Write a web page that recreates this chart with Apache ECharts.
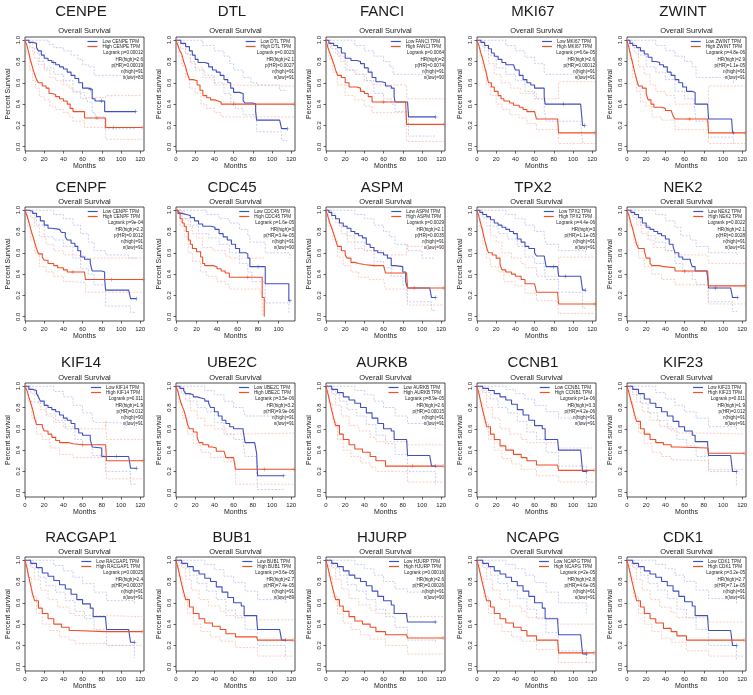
<!DOCTYPE html>
<html><head><meta charset="utf-8">
<script src="https://cdn.jsdelivr.net/npm/echarts@6/dist/echarts.min.js"></script>
<style>html,body{margin:0;padding:0;background:#fff}#c{width:753px;height:695px}</style>
</head><body><div id="c"></div>
<script>
// ---------- tick labels ----------
const xTicks = [0,20,40,60,80,100,120];
const xTicksShort = [0,20,40,60,80,100];
const yTicks = [0,0.2,0.4,0.6,0.8,1.0];
const yTickLabels = ['0.0','0.2','0.4','0.6','0.8','1.0'];

// ---------- genes ----------
const geneNames = ['CENPE','DTL','FANCI','MKI67','ZWINT','CENPF','CDC45','ASPM','TPX2','NEK2','KIF14','UBE2C','AURKB','CCNB1','KIF23','RACGAP1','BUB1','HJURP','NCAPG','CDK1'];
const yAxisTitles = ['Percent Survival','Percent survival','Percent survival','Percent survival','Percent survival','Percent Survival','Percent Survival','Percent Survival','Percent Survival','Percent survival','Percent survival','Percent survival','Percent survival','Percent survival','Percent survival','Percent survival','Percent survival','Percent survival','Percent survival','Percent survival'];

// ---------- statistics ----------
const CENPE_stats = ['Logrank p=0.00012','HR(high)=2.6','p(HR)=0.00019','n(high)=91','n(low)=83'];
const DTL_stats = ['Logrank p=0.0023','HR(high)=2.1','p(HR)=0.0027','n(high)=91','n(low)=91'];
const FANCI_stats = ['Logrank p=0.0064','HR(high)=2','p(HR)=0.0074','n(high)=91','n(low)=90'];
const MKI67_stats = ['Logrank p=6.6e-05','HR(high)=2.6','p(HR)=0.00012','n(high)=91','n(low)=91'];
const ZWINT_stats = ['Logrank p=4.8e-06','HR(high)=2.9','p(HR)=1.1e-05','n(high)=91','n(low)=91'];
const CENPF_stats = ['Logrank p=9e-04','HR(high)=2.2','p(HR)=0.0012','n(high)=91','n(low)=91'];
const CDC45_stats = ['Logrank p=1.6e-05','HR(high)=3','p(HR)=3.4e-05','n(high)=91','n(low)=90'];
const ASPM_stats = ['Logrank p=0.0029','HR(high)=2.1','p(HR)=0.0035','n(high)=91','n(low)=90'];
const TPX2_stats = ['Logrank p=4.4e-06','HR(high)=3','p(HR)=1.1e-05','n(high)=91','n(low)=91'];
const NEK2_stats = ['Logrank p=0.0022','HR(high)=2.1','p(HR)=0.0028','n(high)=91','n(low)=91'];
const KIF14_stats = ['Logrank p=0.011','HR(high)=1.9','p(HR)=0.012','n(high)=90','n(low)=91'];
const UBE2C_stats = ['Logrank p=3.5e-06','HR(high)=3.2','p(HR)=9.9e-06','n(high)=91','n(low)=91'];
const AURKB_stats = ['Logrank p=8.9e-05','HR(high)=2.6','p(HR)=0.00015','n(high)=91','n(low)=91'];
const CCNB1_stats = ['Logrank p=1e-06','HR(high)=3.3','p(HR)=4.2e-06','n(high)=91','n(low)=91'];
const KIF23_stats = ['Logrank p=0.011','HR(high)=1.9','p(HR)=0.012','n(high)=91','n(low)=91'];
const RACGAP1_stats = ['Logrank p=0.00025','HR(high)=2.4','p(HR)=0.00037','n(high)=91','n(low)=91'];
const BUB1_stats = ['Logrank p=3.6e-05','HR(high)=2.7','p(HR)=7.4e-05','n(high)=91','n(low)=89'];
const HJURP_stats = ['Logrank p=0.00016','HR(high)=2.6','p(HR)=0.00026','n(high)=91','n(low)=90'];
const NCAPG_stats = ['Logrank p=2e-05','HR(high)=2.8','p(HR)=4.6e-05','n(high)=91','n(low)=91'];
const CDK1_stats = ['Logrank p=3.2e-05','HR(high)=2.7','p(HR)=7.1e-05','n(high)=91','n(low)=91'];

// ---------- survival curves: [months, survival, censored?] ----------
const CENPE_low = [[0,1],[4,.98],[8,.97],[12,.93],[14,.9],[17,.86],[20,.83],[24,.81],[28,.79],[30,.79,1],[32,.77],[36,.75],[40,.73],[44,.7],[48,.67],[52,.64],[56,.6],[60,.55],[66,.54],[68,.54,1],[70,.45],[73,.43],[80,.43,1],[83,.33],[115,.33,1]];
const CENPE_high = [[0,1],[2,.95],[4,.88],[6,.8],[8,.74],[10,.68],[12,.63],[14,.6],[18,.57],[22,.55],[25,.5],[28,.49],[32,.47],[36,.45],[40,.43],[44,.4],[47,.36],[50,.33],[62,.27],[75,.27,1],[84,.18],[92,.18,1],[122,.18,1]];
const CENPE_lowUp = [[0,1],[20,1],[25,.96],[30,.93],[40,.9],[48,.86],[55,.82],[60,.77],[66,.75],[72,.67],[115,.67]];
const CENPE_lowDn = [[0,1],[5,.93],[10,.88],[15,.8],[20,.74],[30,.68],[40,.62],[50,.52],[58,.45],[65,.42],[70,.32],[73,.28],[83,.17],[115,.17]];
const CENPE_highUp = [[0,1],[5,.97],[8,.9],[10,.83],[14,.77],[20,.72],[26,.65],[32,.62],[40,.58],[46,.55],[50,.51],[62,.46],[84,.48],[122,.48]];
const CENPE_highDn = [[0,1],[2,.87],[5,.72],[8,.62],[11,.55],[15,.47],[20,.44],[26,.38],[32,.35],[40,.32],[46,.28],[50,.24],[62,.18],[84,.07],[122,.07]];

const DTL_low = [[0,1],[5,.97],[10,.94],[14,.9],[17,.86],[20,.82],[23,.79],[30,.78],[34,.75],[38,.72],[42,.7],[46,.67],[50,.63],[54,.6],[57,.55],[60,.51],[66,.5],[70,.43],[72,.41],[80,.4],[83,.33],[84,.25],[108,.25],[110,.17],[116,.17,1]];
const DTL_high = [[0,1],[2,.95],[4,.9],[6,.87],[8,.8],[10,.75],[12,.68],[14,.63],[18,.62],[22,.58],[25,.53],[28,.48],[32,.46],[36,.44],[40,.43],[44,.42],[47,.4],[60,.4,1],[123,.4,1]];
const DTL_lowUp = [[0,1],[20,1],[28,.95],[40,.9],[50,.85],[56,.78],[60,.72],[70,.65],[78,.6],[84,.58],[108,.53],[116,.53]];
const DTL_lowDn = [[0,1],[5,.92],[10,.87],[15,.8],[20,.72],[30,.67],[40,.6],[50,.5],[57,.42],[62,.36],[70,.3],[84,.14],[110,.06],[116,.06]];
const DTL_highUp = [[0,1],[5,.96],[10,.87],[15,.78],[20,.74],[28,.65],[40,.58],[47,.57],[123,.57]];
const DTL_highDn = [[0,1],[3,.85],[6,.76],[10,.65],[14,.55],[20,.5],[26,.4],[32,.36],[40,.32],[47,.28],[123,.28]];

const FANCI_low = [[0,1],[3,.97],[8,.95],[12,.93],[16,.88],[20,.83],[26,.81],[32,.8],[36,.78],[40,.74],[44,.7],[48,.65],[52,.61],[58,.6],[62,.57],[68,.55],[71,.47],[72,.42],[85,.42],[86,.28],[114,.28,1]];
const FANCI_high = [[0,1],[2,.93],[4,.88],[6,.83],[8,.78],[10,.72],[12,.67],[16,.65],[20,.6],[24,.56],[32,.55],[36,.52],[40,.5],[44,.47],[48,.42],[60,.42,1],[83,.42],[84,.21],[123,.21,1]];
const FANCI_lowUp = [[0,1],[22,1],[30,.95],[40,.9],[50,.85],[60,.8],[66,.75],[70,.68],[86,.68],[114,.68]];
const FANCI_lowDn = [[0,1],[5,.92],[12,.85],[20,.72],[30,.68],[40,.62],[50,.5],[60,.45],[68,.4],[72,.33],[86,.1],[114,.1]];
const FANCI_highUp = [[0,1],[5,.95],[10,.88],[15,.8],[22,.72],[32,.68],[42,.62],[48,.58],[84,.45],[123,.45]];
const FANCI_highDn = [[0,1],[3,.83],[7,.7],[12,.58],[20,.48],[30,.44],[40,.38],[48,.32],[83,.3],[84,.05],[123,.05]];

const MKI67_low = [[0,1],[4,.98],[8,.95],[12,.92],[15,.88],[18,.85],[22,.82],[26,.79],[30,.77],[38,.76],[40,.72],[44,.67],[48,.63],[52,.6],[56,.58],[60,.55],[66,.55],[70,.47],[71,.4],[90,.4,1],[108,.4],[110,.2],[112,.2,1]];
const MKI67_high = [[0,1],[2,.95],[4,.88],[6,.82],[8,.75],[10,.68],[12,.6],[15,.56],[18,.52],[22,.48],[25,.45],[28,.43],[34,.41],[38,.39],[44,.37],[48,.35],[52,.33],[60,.33],[62,.26],[84,.26],[85,.13],[123,.13,1]];
const MKI67_lowUp = [[0,1],[22,1],[30,.95],[40,.9],[50,.84],[60,.78],[70,.7],[72,.68],[112,.68]];
const MKI67_lowDn = [[0,1],[6,.93],[12,.86],[20,.74],[30,.68],[40,.62],[50,.52],[60,.45],[70,.35],[72,.24],[108,.22],[110,.04],[112,.04]];
const MKI67_highUp = [[0,1],[4,.98],[8,.9],[12,.78],[18,.68],[25,.6],[35,.55],[45,.5],[62,.45],[85,.61],[123,.61]];
const MKI67_highDn = [[0,1],[3,.85],[6,.72],[10,.58],[14,.48],[20,.4],[26,.35],[34,.3],[44,.27],[52,.22],[62,.16],[85,.03],[123,.03]];

const ZWINT_low = [[0,1],[3,.97],[6,.95],[10,.93],[14,.9],[18,.87],[22,.84],[26,.8],[30,.79],[34,.77],[38,.75],[42,.7],[46,.67],[50,.63],[54,.6],[58,.56],[62,.52],[68,.51],[71,.4],[84,.4],[85,.26],[109,.26],[110,.13],[111,.13,1]];
const ZWINT_high = [[0,1],[2,.93],[4,.85],[6,.78],[8,.7],[10,.63],[12,.57],[16,.55],[20,.5],[22,.44],[25,.4],[28,.37],[36,.36],[40,.34],[46,.33],[48,.29],[50,.26],[65,.26,1],[84,.26],[85,.13],[123,.13,1]];
const ZWINT_lowUp = [[0,1],[22,1],[30,.95],[40,.9],[50,.85],[60,.8],[68,.75],[72,.65],[85,.65],[111,.6]];
const ZWINT_lowDn = [[0,1],[6,.93],[12,.86],[20,.75],[30,.7],[40,.63],[50,.52],[60,.45],[70,.4],[72,.24],[85,.09],[111,.03]];
const ZWINT_highUp = [[0,1],[4,.97],[8,.88],[12,.75],[18,.68],[24,.58],[30,.52],[40,.48],[50,.4],[85,.57],[123,.57]];
const ZWINT_highDn = [[0,1],[3,.83],[6,.65],[10,.52],[14,.42],[20,.38],[26,.28],[36,.25],[50,.16],[85,.03],[123,.03]];

const CENPF_low = [[0,1],[4,.99],[8,.97],[12,.94],[16,.9],[20,.86],[24,.83],[28,.82],[36,.82],[38,.79],[42,.75],[44,.72],[48,.69],[52,.66],[55,.62],[58,.56],[62,.54],[68,.5],[70,.43],[80,.42],[83,.35],[84,.25],[108,.25],[110,.17],[116,.17,1]];
const CENPF_high = [[0,1],[2,.95],[4,.89],[6,.82],[8,.76],[10,.7],[12,.64],[14,.59],[18,.56],[20,.53],[24,.5],[30,.48],[34,.46],[40,.44],[44,.42],[50,.42,1],[62,.41],[63,.35],[90,.35,1],[123,.35,1]];
const CENPF_lowUp = [[0,1],[22,1],[30,.96],[40,.92],[50,.86],[58,.78],[66,.7],[72,.62],[84,.58],[108,.55],[116,.55]];
const CENPF_lowDn = [[0,1],[6,.93],[12,.86],[20,.75],[30,.72],[40,.66],[50,.55],[58,.45],[66,.4],[72,.3],[84,.1],[110,.04],[116,.04]];
const CENPF_highUp = [[0,1],[5,.97],[10,.85],[15,.75],[22,.68],[30,.62],[40,.58],[50,.57],[63,.55],[123,.55]];
const CENPF_highDn = [[0,1],[3,.85],[6,.72],[10,.6],[15,.47],[22,.42],[30,.38],[40,.33],[50,.32],[63,.23],[123,.23]];

const CDC45_low = [[0,1],[2,.97],[6,.96],[10,.95],[14,.93],[18,.9],[22,.87],[26,.85],[34,.84],[38,.82],[42,.78],[46,.75],[50,.72],[54,.68],[58,.64],[62,.6],[68,.59],[70,.55],[72,.47],[80,.47,1],[87,.31],[108,.31],[110,.15],[111,.15,1]];
const CDC45_high = [[0,1],[2,.98],[4,.92],[6,.88],[8,.85],[10,.8],[12,.72],[14,.68],[16,.64],[20,.61],[24,.56],[26,.5],[28,.48],[36,.47],[40,.45],[44,.43],[48,.41],[52,.37],[70,.37,1],[84,.18],[86,0]];
const CDC45_lowUp = [[0,1],[20,1],[30,.96],[42,.92],[52,.88],[62,.82],[70,.76],[72,.7],[87,.6],[111,.55]];
const CDC45_lowDn = [[0,1],[6,.92],[14,.86],[22,.78],[32,.74],[42,.68],[52,.6],[62,.5],[70,.42],[74,.33],[87,.13],[110,.04],[111,.04]];
const CDC45_highUp = [[0,1],[4,.99],[8,.92],[12,.85],[16,.78],[20,.74],[26,.65],[36,.62],[48,.57],[52,.55],[86,.55]];
const CDC45_highDn = [[0,1],[4,.85],[8,.75],[12,.6],[16,.52],[24,.42],[30,.38],[40,.33],[48,.3],[52,.26],[82,.22],[84,0]];

const ASPM_low = [[0,1],[3,.98],[6,.95],[10,.92],[14,.88],[18,.85],[22,.83],[26,.8],[30,.78],[34,.76],[38,.74],[42,.68],[46,.65],[50,.62],[54,.6],[60,.58],[64,.55],[68,.48],[72,.47],[80,.42],[83,.33],[85,.27],[108,.27],[110,.18],[114,.18,1]];
const ASPM_high = [[0,1],[2,.94],[4,.88],[6,.83],[8,.78],[10,.72],[12,.66],[16,.62],[20,.58],[22,.55],[26,.51],[30,.5],[34,.49],[40,.48],[50,.48,1],[60,.47],[62,.41],[84,.41],[85,.27],[92,.27,1],[123,.27,1]];
const ASPM_lowUp = [[0,1],[22,1],[30,.96],[40,.92],[50,.86],[60,.8],[66,.75],[72,.68],[85,.62],[100,.55],[114,.55]];
const ASPM_lowDn = [[0,1],[6,.92],[14,.85],[22,.76],[30,.7],[40,.62],[50,.52],[60,.46],[68,.38],[80,.3],[85,.14],[110,.06],[114,.06]];
const ASPM_highUp = [[0,1],[5,.97],[10,.88],[16,.78],[22,.7],[30,.64],[40,.62],[60,.6],[62,.58],[84,.68],[85,.66],[123,.66]];
const ASPM_highDn = [[0,1],[3,.85],[7,.72],[12,.56],[18,.48],[26,.42],[34,.37],[45,.35],[60,.34],[62,.26],[84,.22],[85,.11],[123,.11]];

const TPX2_low = [[0,1],[3,.98],[6,.96],[10,.94],[14,.91],[18,.88],[22,.86],[26,.84],[30,.82],[34,.8],[38,.78],[42,.73],[46,.7],[50,.66],[54,.64],[60,.6],[62,.57],[70,.56],[72,.47],[80,.47,1],[84,.47],[85,.38],[92,.38,1],[108,.38],[110,.25],[113,.25,1]];
const TPX2_high = [[0,1],[2,.94],[4,.87],[6,.8],[8,.72],[10,.65],[12,.6],[16,.58],[20,.55],[24,.49],[26,.44],[30,.42],[36,.4],[40,.38],[46,.35],[50,.31],[60,.31],[62,.23],[84,.23],[85,.12],[123,.12,1]];
const TPX2_lowUp = [[0,1],[22,1],[30,.96],[40,.92],[50,.86],[60,.8],[70,.76],[72,.68],[85,.62],[113,.58]];
const TPX2_lowDn = [[0,1],[6,.93],[14,.85],[22,.78],[32,.73],[42,.66],[50,.56],[60,.5],[70,.45],[72,.35],[85,.23],[110,.08],[113,.08]];
const TPX2_highUp = [[0,1],[5,.96],[10,.85],[14,.76],[20,.7],[26,.6],[36,.55],[46,.5],[50,.46],[62,.38],[85,.56],[123,.56]];
const TPX2_highDn = [[0,1],[3,.84],[6,.68],[10,.55],[14,.47],[22,.42],[28,.33],[40,.29],[50,.22],[62,.15],[84,.12],[85,.03],[123,.03]];

const NEK2_low = [[0,1],[4,.98],[8,.96],[12,.93],[16,.88],[20,.84],[24,.82],[28,.8],[32,.78],[36,.76],[40,.73],[44,.68],[48,.66],[50,.6],[54,.56],[58,.54],[66,.52],[68,.47],[71,.43],[83,.43],[84,.37],[85,.27],[92,.27,1],[108,.27],[110,.18],[115,.18,1]];
const NEK2_high = [[0,1],[2,.95],[4,.88],[6,.82],[8,.75],[10,.68],[12,.64],[18,.62],[20,.55],[24,.5],[26,.48],[34,.47],[38,.46],[50,.43],[60,.43,1],[84,.43],[85,.29],[123,.29,1]];
const NEK2_lowUp = [[0,1],[22,1],[30,.96],[40,.9],[50,.84],[56,.76],[66,.72],[72,.66],[85,.6],[115,.58]];
const NEK2_lowDn = [[0,1],[6,.93],[14,.86],[22,.76],[30,.7],[40,.62],[50,.5],[58,.42],[68,.35],[72,.3],[85,.14],[110,.05],[115,.05]];
const NEK2_highUp = [[0,1],[5,.96],[10,.86],[15,.78],[22,.72],[28,.65],[40,.62],[50,.58],[84,.58],[85,.5],[123,.5]];
const NEK2_highDn = [[0,1],[3,.85],[7,.7],[12,.55],[18,.47],[26,.4],[36,.35],[50,.3],[84,.28],[85,.12],[123,.12]];

const KIF14_low = [[0,1],[4,.97],[8,.96],[12,.93],[14,.9],[16,.86],[20,.82],[24,.8],[28,.78],[32,.76],[36,.73],[40,.7],[44,.68],[48,.65],[52,.6],[56,.56],[60,.54],[68,.5],[70,.43],[72,.42],[80,.34],[95,.34,1],[108,.34],[110,.23],[116,.23,1]];
const KIF14_high = [[0,1],[2,.96],[4,.9],[6,.84],[8,.78],[10,.7],[12,.64],[18,.62],[20,.58],[24,.55],[28,.52],[32,.49],[36,.47],[46,.46],[50,.45],[60,.45,1],[84,.45],[85,.3],[123,.3,1]];
const KIF14_lowUp = [[0,1],[20,1],[30,.95],[40,.9],[50,.82],[60,.75],[70,.7],[72,.66],[84,.65],[116,.6]];
const KIF14_lowDn = [[0,1],[6,.93],[14,.84],[22,.74],[32,.68],[42,.6],[52,.5],[60,.45],[70,.35],[84,.2],[110,.08],[116,.08]];
const KIF14_highUp = [[0,1],[5,.97],[10,.85],[16,.78],[22,.72],[30,.66],[40,.62],[50,.6],[84,.68],[85,.5],[123,.5]];
const KIF14_highDn = [[0,1],[3,.86],[7,.7],[12,.55],[18,.5],[26,.42],[36,.36],[50,.33],[84,.3],[85,.13],[123,.13]];

const UBE2C_low = [[0,1],[4,.98],[8,.96],[10,.93],[14,.92],[18,.9],[22,.89],[26,.88],[30,.86],[34,.84],[36,.8],[40,.76],[44,.72],[48,.68],[52,.65],[56,.62],[60,.6],[70,.58],[72,.47],[82,.47],[84,.37],[85,.16],[112,.16,1]];
const UBE2C_high = [[0,1],[2,.95],[4,.88],[6,.82],[8,.78],[10,.72],[12,.64],[14,.6],[18,.57],[22,.52],[24,.47],[28,.45],[34,.43],[38,.42],[42,.39],[50,.38],[52,.33],[60,.33],[62,.22],[92,.22,1],[123,.22,1]];
const UBE2C_lowUp = [[0,1],[22,1],[30,.96],[40,.92],[50,.86],[60,.8],[70,.78],[72,.72],[85,.72],[112,.72]];
const UBE2C_lowDn = [[0,1],[6,.93],[14,.86],[22,.8],[32,.76],[40,.66],[50,.55],[60,.5],[70,.46],[72,.34],[84,.22],[85,.03],[112,.03]];
const UBE2C_highUp = [[0,1],[5,.97],[10,.87],[15,.77],[22,.7],[30,.63],[40,.6],[52,.55],[62,.56],[123,.56]];
const UBE2C_highDn = [[0,1],[3,.84],[7,.7],[12,.55],[18,.46],[26,.38],[36,.33],[50,.29],[62,.08],[123,.08]];

const AURKB_low = [[0,1],[6,.97],[12,.94],[18,.9],[24,.87],[30,.84],[36,.8],[42,.75],[48,.7],[54,.65],[60,.6],[68,.58],[71,.5],[84,.5],[85,.35],[108,.35],[110,.25],[114,.25,1]];
const AURKB_high = [[0,1],[2,.93],[4,.85],[6,.77],[8,.7],[10,.63],[14,.55],[18,.5],[24,.45],[30,.41],[38,.38],[46,.34],[52,.3],[62,.25],[90,.25,1],[122,.25,1]];
const AURKB_lowUp = [[0,1],[22,1],[30,.96],[40,.92],[50,.86],[60,.8],[72,.72],[85,.65],[114,.6]];
const AURKB_lowDn = [[0,1],[6,.93],[14,.86],[22,.78],[32,.72],[42,.64],[52,.54],[62,.46],[72,.36],[85,.2],[114,.08]];
const AURKB_highUp = [[0,1],[5,.96],[10,.82],[16,.72],[24,.63],[34,.58],[46,.52],[52,.48],[85,.45],[122,.45]];
const AURKB_highDn = [[0,1],[3,.84],[7,.66],[12,.5],[18,.4],[26,.34],[36,.28],[46,.24],[52,.2],[85,.1],[122,.1]];

const CCNB1_low = [[0,1],[6,.98],[12,.96],[18,.93],[24,.9],[30,.87],[36,.83],[42,.78],[48,.73],[54,.68],[60,.63],[68,.6],[71,.5],[84,.5],[85,.4],[108,.4],[110,.2],[114,.2,1]];
const CCNB1_high = [[0,1],[2,.93],[4,.85],[6,.77],[8,.7],[10,.62],[14,.55],[18,.5],[24,.44],[30,.4],[38,.36],[46,.33],[52,.3],[62,.26],[84,.26],[85,.21],[122,.21,1]];
const CCNB1_lowUp = [[0,1],[22,1],[30,.97],[40,.93],[50,.88],[60,.82],[72,.76],[85,.7],[114,.65]];
const CCNB1_lowDn = [[0,1],[6,.94],[14,.88],[22,.8],[32,.75],[42,.67],[52,.57],[62,.5],[72,.38],[85,.25],[114,.06]];
const CCNB1_highUp = [[0,1],[5,.96],[10,.8],[16,.7],[24,.6],[34,.55],[46,.5],[52,.47],[85,.42],[122,.42]];
const CCNB1_highDn = [[0,1],[3,.84],[7,.66],[12,.5],[18,.4],[26,.32],[36,.27],[46,.22],[62,.16],[85,.1],[122,.1]];

const KIF23_low = [[0,1],[6,.97],[12,.93],[18,.88],[24,.84],[30,.8],[36,.76],[42,.72],[48,.67],[54,.62],[60,.58],[68,.54],[71,.48],[84,.46],[85,.35],[108,.35],[110,.2],[114,.2,1]];
const KIF23_high = [[0,1],[2,.94],[4,.87],[6,.8],[8,.73],[10,.67],[14,.6],[18,.55],[24,.5],[30,.47],[38,.45],[46,.43],[52,.42],[84,.42],[85,.37],[122,.37,1]];
const KIF23_lowUp = [[0,1],[22,1],[30,.94],[40,.88],[50,.82],[60,.76],[72,.7],[85,.62],[114,.58]];
const KIF23_lowDn = [[0,1],[6,.92],[14,.84],[22,.75],[32,.68],[42,.6],[52,.5],[62,.44],[72,.34],[85,.2],[114,.06]];
const KIF23_highUp = [[0,1],[5,.97],[10,.85],[16,.76],[24,.68],[34,.62],[46,.58],[52,.56],[85,.55],[122,.55]];
const KIF23_highDn = [[0,1],[3,.85],[7,.7],[12,.56],[18,.46],[26,.38],[36,.34],[46,.31],[52,.3],[85,.22],[122,.22]];

const RACGAP1_low = [[0,1],[6,.97],[12,.93],[18,.88],[24,.85],[30,.81],[36,.77],[42,.73],[48,.68],[54,.63],[60,.59],[68,.55],[71,.47],[84,.45],[85,.35],[108,.35],[110,.23],[114,.23,1]];
const RACGAP1_high = [[0,1],[2,.93],[4,.84],[6,.76],[8,.68],[10,.62],[14,.55],[18,.5],[24,.45],[30,.4],[38,.37],[46,.34],[52,.33],[84,.33],[122,.33,1]];
const RACGAP1_lowUp = [[0,1],[22,1],[30,.95],[40,.9],[50,.84],[60,.78],[72,.7],[85,.62],[114,.58]];
const RACGAP1_lowDn = [[0,1],[6,.93],[14,.84],[22,.76],[32,.7],[42,.62],[52,.52],[62,.45],[72,.35],[85,.2],[114,.08]];
const RACGAP1_highUp = [[0,1],[5,.96],[10,.82],[16,.72],[24,.63],[34,.56],[46,.5],[52,.48],[85,.47],[122,.47]];
const RACGAP1_highDn = [[0,1],[3,.84],[7,.66],[12,.5],[18,.4],[26,.34],[36,.28],[46,.25],[52,.22],[85,.2],[122,.2]];

const BUB1_low = [[0,1],[6,.97],[12,.94],[18,.9],[24,.87],[30,.83],[36,.8],[42,.75],[48,.7],[54,.65],[60,.6],[68,.57],[71,.48],[84,.46],[85,.35],[108,.35],[110,.25],[114,.25,1]];
const BUB1_high = [[0,1],[2,.93],[4,.85],[6,.77],[8,.7],[10,.63],[14,.56],[18,.5],[24,.45],[30,.41],[38,.38],[46,.35],[52,.31],[62,.28],[84,.28],[85,.25],[122,.25,1]];
const BUB1_lowUp = [[0,1],[22,1],[30,.96],[40,.91],[50,.85],[60,.79],[72,.71],[85,.63],[114,.6]];
const BUB1_lowDn = [[0,1],[6,.93],[14,.86],[22,.78],[32,.71],[42,.63],[52,.53],[62,.46],[72,.35],[85,.2],[114,.08]];
const BUB1_highUp = [[0,1],[5,.96],[10,.82],[16,.72],[24,.63],[34,.57],[46,.52],[52,.48],[85,.44],[122,.44]];
const BUB1_highDn = [[0,1],[3,.84],[7,.66],[12,.5],[18,.4],[26,.33],[36,.28],[46,.24],[62,.18],[85,.1],[122,.1]];

const HJURP_low = [[0,1],[6,.97],[12,.94],[18,.9],[24,.86],[30,.83],[36,.8],[42,.76],[48,.71],[54,.66],[60,.62],[68,.58],[71,.5],[84,.48],[85,.42],[108,.42],[110,.42],[114,.42,1]];
const HJURP_high = [[0,1],[2,.93],[4,.85],[6,.77],[8,.7],[10,.63],[14,.57],[18,.52],[24,.47],[30,.43],[38,.4],[46,.37],[52,.33],[62,.3],[84,.3],[85,.27],[122,.27,1]];
const HJURP_lowUp = [[0,1],[22,1],[30,.96],[40,.92],[50,.86],[60,.8],[72,.73],[85,.7],[114,.7]];
const HJURP_lowDn = [[0,1],[6,.93],[14,.86],[22,.77],[32,.71],[42,.63],[52,.54],[62,.47],[72,.37],[85,.25],[114,.22]];
const HJURP_highUp = [[0,1],[5,.96],[10,.82],[16,.73],[24,.64],[34,.58],[46,.53],[52,.5],[85,.47],[122,.47]];
const HJURP_highDn = [[0,1],[3,.84],[7,.66],[12,.5],[18,.41],[26,.35],[36,.3],[46,.26],[62,.2],[85,.12],[122,.12]];

const NCAPG_low = [[0,1],[6,.97],[12,.94],[18,.9],[24,.87],[30,.84],[36,.8],[42,.76],[48,.71],[54,.66],[60,.6],[68,.55],[71,.45],[84,.43],[85,.3],[108,.3],[110,.12],[114,.12,1]];
const NCAPG_high = [[0,1],[2,.93],[4,.85],[6,.77],[8,.7],[10,.62],[14,.56],[18,.5],[24,.45],[30,.41],[38,.37],[46,.34],[52,.29],[62,.25],[84,.25],[85,.13],[122,.13,1]];
const NCAPG_lowUp = [[0,1],[22,1],[30,.96],[40,.92],[50,.86],[60,.79],[72,.7],[85,.6],[114,.5]];
const NCAPG_lowDn = [[0,1],[6,.93],[14,.86],[22,.78],[32,.72],[42,.64],[52,.54],[62,.45],[72,.32],[85,.15],[114,.03]];
const NCAPG_highUp = [[0,1],[5,.96],[10,.82],[16,.72],[24,.63],[34,.57],[46,.52],[52,.46],[85,.4],[122,.4]];
const NCAPG_highDn = [[0,1],[3,.84],[7,.66],[12,.5],[18,.4],[26,.33],[36,.28],[46,.24],[62,.16],[85,.04],[122,.04]];

const CDK1_low = [[0,1],[6,.97],[12,.94],[18,.9],[24,.87],[30,.84],[36,.8],[42,.76],[48,.71],[54,.66],[60,.61],[68,.57],[71,.48],[84,.46],[85,.34],[108,.34],[110,.2],[114,.2,1]];
const CDK1_high = [[0,1],[2,.93],[4,.85],[6,.77],[8,.7],[10,.62],[14,.56],[18,.5],[24,.45],[30,.41],[38,.36],[46,.33],[52,.29],[62,.25],[84,.25],[122,.25,1]];
const CDK1_lowUp = [[0,1],[22,1],[30,.96],[40,.92],[50,.86],[60,.8],[72,.72],[85,.64],[114,.58]];
const CDK1_lowDn = [[0,1],[6,.93],[14,.86],[22,.78],[32,.72],[42,.64],[52,.54],[62,.46],[72,.35],[85,.2],[114,.06]];
const CDK1_highUp = [[0,1],[5,.96],[10,.82],[16,.72],[24,.63],[34,.56],[46,.51],[52,.46],[85,.42],[122,.42]];
const CDK1_highDn = [[0,1],[3,.84],[7,.66],[12,.5],[18,.4],[26,.33],[36,.27],[46,.23],[62,.15],[85,.1],[122,.1]];

// ---------- per-panel table ----------
const panels = [
 ['CENPE',CENPE_stats,CENPE_low,CENPE_high,CENPE_lowUp,CENPE_lowDn,CENPE_highUp,CENPE_highDn],
 ['DTL',DTL_stats,DTL_low,DTL_high,DTL_lowUp,DTL_lowDn,DTL_highUp,DTL_highDn],
 ['FANCI',FANCI_stats,FANCI_low,FANCI_high,FANCI_lowUp,FANCI_lowDn,FANCI_highUp,FANCI_highDn],
 ['MKI67',MKI67_stats,MKI67_low,MKI67_high,MKI67_lowUp,MKI67_lowDn,MKI67_highUp,MKI67_highDn],
 ['ZWINT',ZWINT_stats,ZWINT_low,ZWINT_high,ZWINT_lowUp,ZWINT_lowDn,ZWINT_highUp,ZWINT_highDn],
 ['CENPF',CENPF_stats,CENPF_low,CENPF_high,CENPF_lowUp,CENPF_lowDn,CENPF_highUp,CENPF_highDn],
 ['CDC45',CDC45_stats,CDC45_low,CDC45_high,CDC45_lowUp,CDC45_lowDn,CDC45_highUp,CDC45_highDn],
 ['ASPM',ASPM_stats,ASPM_low,ASPM_high,ASPM_lowUp,ASPM_lowDn,ASPM_highUp,ASPM_highDn],
 ['TPX2',TPX2_stats,TPX2_low,TPX2_high,TPX2_lowUp,TPX2_lowDn,TPX2_highUp,TPX2_highDn],
 ['NEK2',NEK2_stats,NEK2_low,NEK2_high,NEK2_lowUp,NEK2_lowDn,NEK2_highUp,NEK2_highDn],
 ['KIF14',KIF14_stats,KIF14_low,KIF14_high,KIF14_lowUp,KIF14_lowDn,KIF14_highUp,KIF14_highDn],
 ['UBE2C',UBE2C_stats,UBE2C_low,UBE2C_high,UBE2C_lowUp,UBE2C_lowDn,UBE2C_highUp,UBE2C_highDn],
 ['AURKB',AURKB_stats,AURKB_low,AURKB_high,AURKB_lowUp,AURKB_lowDn,AURKB_highUp,AURKB_highDn],
 ['CCNB1',CCNB1_stats,CCNB1_low,CCNB1_high,CCNB1_lowUp,CCNB1_lowDn,CCNB1_highUp,CCNB1_highDn],
 ['KIF23',KIF23_stats,KIF23_low,KIF23_high,KIF23_lowUp,KIF23_lowDn,KIF23_highUp,KIF23_highDn],
 ['RACGAP1',RACGAP1_stats,RACGAP1_low,RACGAP1_high,RACGAP1_lowUp,RACGAP1_lowDn,RACGAP1_highUp,RACGAP1_highDn],
 ['BUB1',BUB1_stats,BUB1_low,BUB1_high,BUB1_lowUp,BUB1_lowDn,BUB1_highUp,BUB1_highDn],
 ['HJURP',HJURP_stats,HJURP_low,HJURP_high,HJURP_lowUp,HJURP_lowDn,HJURP_highUp,HJURP_highDn],
 ['NCAPG',NCAPG_stats,NCAPG_low,NCAPG_high,NCAPG_lowUp,NCAPG_lowDn,NCAPG_highUp,NCAPG_highDn],
 ['CDK1',CDK1_stats,CDK1_low,CDK1_high,CDK1_lowUp,CDK1_lowDn,CDK1_highUp,CDK1_highDn]
];

// ---------- layout & style ----------
const FONT = '"Liberation Sans", Arial, Helvetica, sans-serif';
const BLUE = '#3f4fc2', RED = '#f14d27', BLUE_CI = '#b0b7ea', RED_CI = '#f8b6a5';
const colLeft = [25,176,326,477,627], rowTop = [37,207,383,557], W = 119, H = 114;
const titleY = [12,188,363,538], osY = [31,202,378,552];
const PLUS = 'path://M4,0h1v9h-1zM0,4h9v1h-9z';

const chart = echarts.init(document.getElementById('c'), null, {renderer:'canvas'});
const grids=[], xAxes=[], yAxes=[], series=[], legends=[], graphics=[];

panels.forEach((p, i) => {
  const [gene, stats, low, high, lowUp, lowDn, highUp, highDn] = p;
  const r = Math.floor(i/5), c = i%5;
  const L = colLeft[c], T = rowTop[r];
  const short = gene === 'CDC45';
  const ticks = short ? xTicksShort : xTicks;
  grids.push({left:L, top:T, width:W, height:H, show:true, borderColor:'#222', borderWidth:0.8, backgroundColor:'rgba(0,0,0,0)'});
  xAxes.push({type:'value', gridIndex:i, min:0, max: short ? 116 : 124, position:'bottom',
    axisLine:{show:false, onZero:false}, splitLine:{show:false},
    axisTick:{show:true, length:2.5, customValues:ticks, lineStyle:{color:'#222', width:0.7}},
    axisLabel:{customValues:ticks, fontSize:6, margin:5, color:'#222', fontFamily:FONT},
    name:'Months', nameLocation:'middle', nameGap:12,
    nameTextStyle:{fontSize:7, color:'#222', fontFamily:FONT}});
  yAxes.push({type:'value', gridIndex:i, min:-0.04, max:1.03, position:'left',
    axisLine:{show:false, onZero:false}, splitLine:{show:false},
    axisTick:{show:true, length:2.5, customValues:yTicks, lineStyle:{color:'#222', width:0.7}},
    axisLabel:{customValues:yTicks, rotate:90, fontSize:6, margin:4, color:'#222', fontFamily:FONT,
      formatter: v => { let k=0; yTicks.forEach((t,j)=>{ if (Math.abs(t-v) < Math.abs(yTicks[k]-v)) k=j; }); return yTickLabels[k]; }},
    name: yAxisTitles[i], nameLocation:'middle', nameGap:13,
    nameTextStyle:{fontSize:7, color:'#222', fontFamily:FONT}});
  const ci = (name, arr, color) => ({type:'line', name, xAxisIndex:i, yAxisIndex:i, step:'end',
    data: arr.map(d => [d[0], d[1]]), showSymbol:false, symbol:'none', silent:true, animation:false,
    lineStyle:{color, width:0.7, type:[2,1.5]}, z:2});
  const km = (name, arr, color) => ({type:'line', name, xAxisIndex:i, yAxisIndex:i, step:'end',
    data: arr.map(d => ({value:[d[0], d[1]], symbol: d[2] ? PLUS : 'none'})),
    showSymbol:true, symbolSize:4, silent:true, animation:false,
    itemStyle:{color}, lineStyle:{color, width:1.1}, z:3});
  series.push(ci(gene+' low upper', lowUp, BLUE_CI), ci(gene+' low lower', lowDn, BLUE_CI),
              ci(gene+' high upper', highUp, RED_CI), ci(gene+' high lower', highDn, RED_CI));
  const lowName = 'Low ' + gene + ' TPM', highName = 'High ' + gene + ' TPM';
  series.push(km(lowName, low, BLUE), km(highName, high, RED));
  legends.push({data:[lowName, highName], orient:'vertical', right: 753 - (L + W) + 4, top: T + 2,
    itemWidth:10, itemHeight:1.2, icon:'rect', itemGap:0, padding:0, selectedMode:false,
    textStyle:{fontSize:4.6, color:'#222', fontFamily:FONT, lineHeight:4.8}});
  graphics.push({type:'text', x: L + W - 1, y: T + 13, silent:true,
    style:{text: stats.join('\n'), align:'right', verticalAlign:'top', font:'4.6px ' + FONT, lineHeight:6.2, fill:'#222'}});
  graphics.push({type:'text', x: L + 56, y: titleY[r], silent:true,
    style:{text: gene, align:'center', verticalAlign:'middle', font:'15px ' + FONT, fill:'#1a1a1a'}});
  graphics.push({type:'text', x: L + 59.5, y: osY[r], silent:true,
    style:{text:'Overall Survival', align:'center', verticalAlign:'middle', font:'7.5px ' + FONT, fill:'#222'}});
});

chart.setOption({
  animation:false, backgroundColor:'#fff',
  grid: grids, xAxis: xAxes, yAxis: yAxes, series, legend: legends, graphic: graphics
});
</script></body></html>
